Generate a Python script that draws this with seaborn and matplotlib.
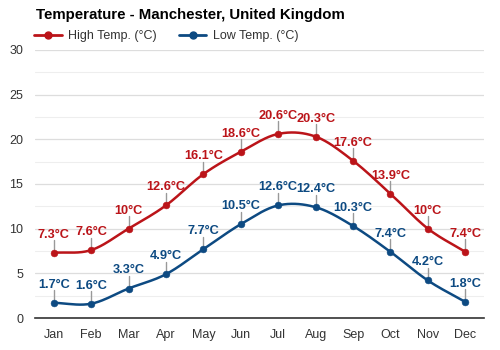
import numpy as np
import pandas as pd
import matplotlib
matplotlib.use("Agg")
import matplotlib.pyplot as plt
import seaborn as sns
from matplotlib.lines import Line2D
from matplotlib.ticker import MultipleLocator

months = ["Jan", "Feb", "Mar", "Apr", "May", "Jun", "Jul", "Aug", "Sep", "Oct", "Nov", "Dec"]
high = [7.3, 7.6, 10, 12.6, 16.1, 18.6, 20.6, 20.3, 17.6, 13.9, 10, 7.4]
low = [1.7, 1.6, 3.3, 4.9, 7.7, 10.5, 12.6, 12.4, 10.3, 7.4, 4.2, 1.8]
high_labels = ["7.3°C", "7.6°C", "10°C", "12.6°C", "16.1°C", "18.6°C", "20.6°C", "20.3°C", "17.6°C", "13.9°C", "10°C", "7.4°C"]
low_labels = ["1.7°C", "1.6°C", "3.3°C", "4.9°C", "7.7°C", "10.5°C", "12.6°C", "12.4°C", "10.3°C", "7.4°C", "4.2°C", "1.8°C"]

HIGH_C = "#bb1419"
LOW_C = "#0d4a82"

sns.set_theme(style="white")
plt.rcParams['font.family'] = ['Liberation Sans', 'DejaVu Sans']


def spline(y, n=20):
    """Catmull-Rom smoothing through the points (for drawing the curve only)."""
    y = np.asarray(y, float)
    p = np.concatenate([[2 * y[0] - y[1]], y, [2 * y[-1] - y[-2]]])
    xs, ys = [], []
    for i in range(len(y) - 1):
        p0, p1, p2, p3 = p[i], p[i + 1], p[i + 2], p[i + 3]
        t = np.linspace(0, 1, n, endpoint=False)
        v = 0.5 * ((2 * p1) + (-p0 + p2) * t + (2 * p0 - 5 * p1 + 4 * p2 - p3) * t ** 2
                   + (-p0 + 3 * p1 - 3 * p2 + p3) * t ** 3)
        xs.append(i + t)
        ys.append(v)
    xs.append([len(y) - 1])
    ys.append([y[-1]])
    return np.concatenate(xs), np.concatenate(ys)


fig = plt.figure(figsize=(5, 3.5), dpi=100)
ax = fig.add_axes([0.07, 0.0914, 0.898, 0.766])

idx = np.arange(len(months))
for vals, labels, color in [(high, high_labels, HIGH_C), (low, low_labels, LOW_C)]:
    sx, sy = spline(vals)
    sns.lineplot(x=sx, y=sy, ax=ax, color=color, lw=1.8, zorder=3)
    df = pd.DataFrame({"x": idx, "y": vals})
    sns.scatterplot(data=df, x="x", y="y", ax=ax, color=color, s=24, edgecolor=color, zorder=4)
    for i, (v, lab) in enumerate(zip(vals, labels)):
        ax.plot([i, i], [v, v + 1.4], color="#999999", lw=1, zorder=2)
        ax.text(i, v + 1.35, lab, ha="center", va="bottom", color=color,
                fontsize=9.2, fontweight="bold", zorder=5)

ax.set_xlim(-0.5, 11.5)
ax.set_ylim(0, 30)
ax.set_xticks(idx)
ax.set_xticklabels(months)
ax.yaxis.set_major_locator(MultipleLocator(5))
ax.yaxis.set_minor_locator(MultipleLocator(2.5))
ax.grid(axis="y", which="major", color="#dddddd", lw=0.9)
ax.grid(axis="y", which="minor", color="#eeeeee", lw=0.8)
ax.set_axisbelow(True)
for s in ["top", "right", "left"]:
    ax.spines[s].set_visible(False)
ax.spines["bottom"].set_color("#333333")
ax.spines["bottom"].set_linewidth(1.2)
ax.tick_params(axis="both", which="both", length=0, labelsize=9, labelcolor="#333333")
ax.tick_params(axis="x", pad=8)
ax.tick_params(axis="y", pad=8.5)
ax.set_xlabel("")
ax.set_ylabel("")

fig.text(0.072, 0.957, "Temperature - Manchester, United Kingdom", fontsize=10.8,
         fontweight="bold", color="#000000", va="center", ha="left")

handles = [Line2D([0], [0], color=HIGH_C, lw=2, marker="o", markersize=5),
           Line2D([0], [0], color=LOW_C, lw=2, marker="o", markersize=5)]
fig.legend(handles, ["High Temp. (°C)", "Low Temp. (°C)"], loc="center left",
           bbox_to_anchor=(0.068, 0.897), ncol=2, frameon=False, fontsize=9,
           handlelength=2.2, handletextpad=0.5, columnspacing=1.8, borderaxespad=0,
           borderpad=0, labelcolor="#333333")

fig.savefig("out.png", dpi=100)
